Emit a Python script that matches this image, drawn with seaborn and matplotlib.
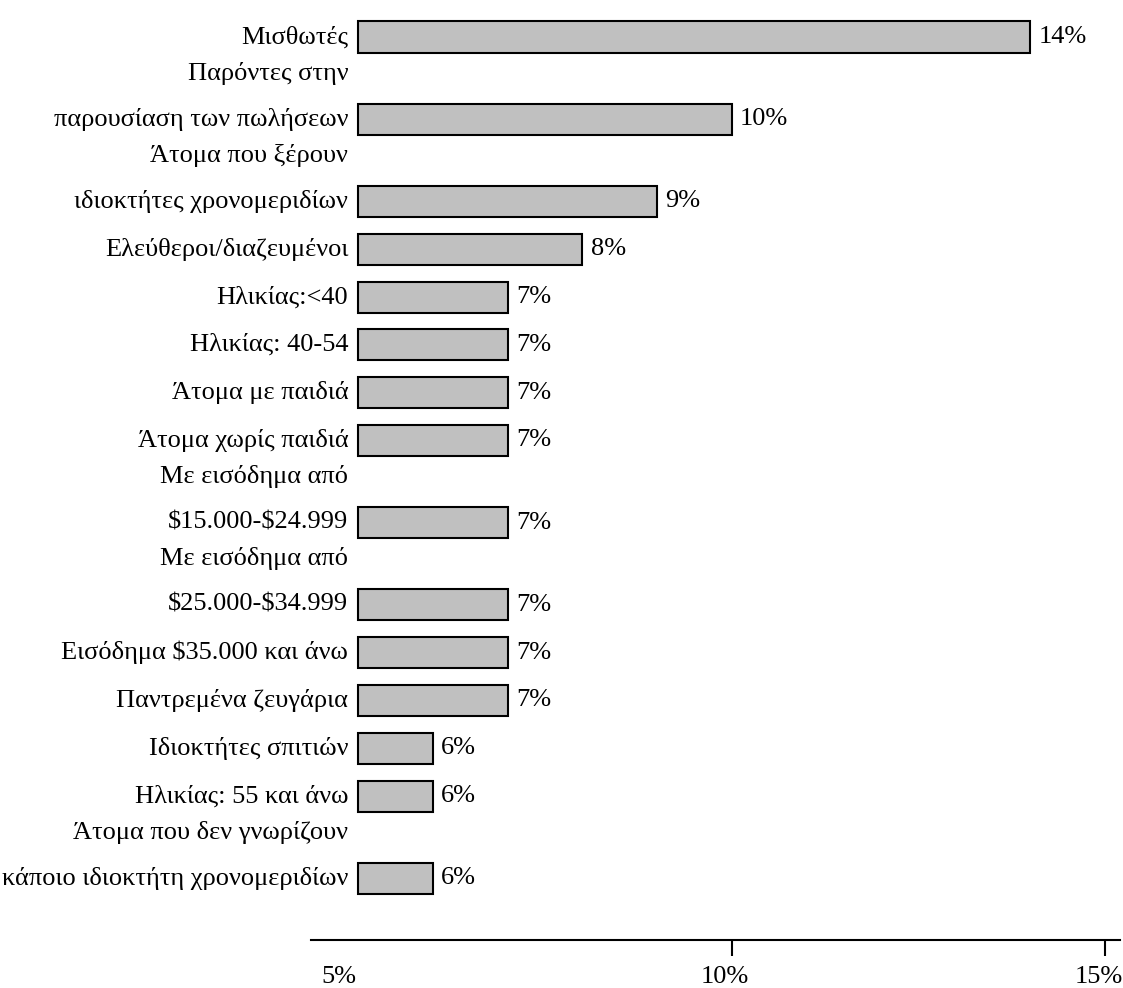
import pandas as pd
import seaborn as sns
import matplotlib.pyplot as plt
from matplotlib.transforms import blended_transform_factory, ScaledTranslation

# Share of each group (percent)
categories = [
    "Μισθωτές",
    "Παρόντες στην\nπαρουσίαση των πωλήσεων",
    "Άτομα που ξέρουν\nιδιοκτήτες χρονομεριδίων",
    "Ελεύθεροι/διαζευμένοι",
    "Ηλικίας:<40",
    "Ηλικίας: 40-54",
    "Άτομα με παιδιά",
    "Άτομα χωρίς παιδιά",
    "Με εισόδημα από\n$15.000-$24.999",
    "Με εισόδημα από\n$25.000-$34.999",
    "Εισόδημα $35.000 και άνω",
    "Παντρεμένα ζευγάρια",
    "Ιδιοκτήτες σπιτιών",
    "Ηλικίας: 55 και άνω",
    "Άτομα που δεν γνωρίζουν\nκάποιο ιδιοκτήτη χρονομεριδίων",
]
values = [14, 10, 9, 8, 7, 7, 7, 7, 7, 7, 7, 7, 6, 6, 6]

x_ticks = [5, 10, 15]
x_tick_labels = ["5%", "10%", "15%"]

BASE = 5          # bars grow from the 5% line
FS = 19

sns.set_style("white")
plt.rcParams["font.family"] = ["Liberation Serif", "DejaVu Serif"]
plt.rcParams["text.color"] = "black"

# One slot per row; rows with a two-line label get extra room above
n_lines = [c.count("\n") + 1 for c in categories]
positions = []
pos = 0.0
for i, n in enumerate(n_lines):
    if i > 0:
        pos += 1.0 + 0.72 * (n - 1)
    positions.append(pos)

df = pd.DataFrame({"label": categories, "value": values, "pos": positions})

fig = plt.figure(figsize=(11.23, 9.88), dpi=100)
ax = fig.add_axes([0.277, 0.0486, 0.7204, 0.9514])

sns.barplot(data=df, x="value", y="pos", orient="y", native_scale=True,
            width=0.65, color="#c0c0c0", saturation=1,
            edgecolor="black", linewidth=1.5, ax=ax)

# start every bar at the baseline instead of zero
for p in ax.patches:
    end = p.get_x() + p.get_width()
    p.set_x(BASE)
    p.set_width(end - BASE)

ax.set_xlim(4.37, 15.2)
ax.set_ylim(18.89, -0.774)

for side in ("left", "top", "right"):
    ax.spines[side].set_visible(False)
ax.spines["bottom"].set_linewidth(1.5)
ax.spines["bottom"].set_color("black")

ax.set_xticks(x_ticks, x_tick_labels)
ax.tick_params(axis="x", bottom=True, length=11.5, width=1.5, direction="out",
               pad=7, labelsize=FS, colors="black")
ax.xaxis.get_major_ticks()[0].tick1line.set_visible(False)
ax.set_yticks([])
ax.set_xlabel("")
ax.set_ylabel("")

# nudge the tick labels slightly left of their ticks
for lbl, dx in zip(ax.get_xticklabels(), [-19, -7, -6]):
    lbl.set_transform(lbl.get_transform()
                      + ScaledTranslation(dx / 100, 0, fig.dpi_scale_trans))

# category labels, right-aligned left of the bars
trans = blended_transform_factory(ax.transAxes, ax.transData)
for label, y in zip(categories, positions):
    lines = label.split("\n")
    for k, line in enumerate(reversed(lines)):
        ax.text(0.046, y - 0.96 * k, line, transform=trans, ha="right",
                va="center", fontsize=FS, color="black", parse_math=False)

# value labels at the end of each bar
for v, y in zip(values, positions):
    ax.annotate(f"{v}%", xy=(v, y), xytext=(6, 0), textcoords="offset points",
                ha="left", va="center", fontsize=FS, color="black")

fig.savefig("out.png", dpi=100)
